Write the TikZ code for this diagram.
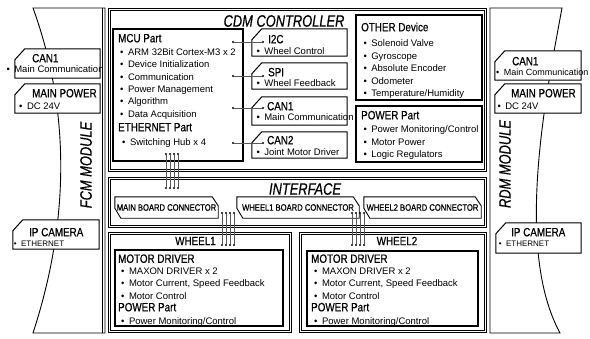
\documentclass[tikz,border=0pt]{standalone}
\usepackage{fontspec}
\setmainfont{Liberation Sans}
\newfontfamily\hdrfont[FakeStretch=0.82,FakeBold=0.6]{Liberation Sans}
\newfontfamily\ttlfont[FakeStretch=0.78,FakeBold=0.6]{Liberation Sans}
\newcommand{\bul}{\textbullet\hspace{4.5pt}}

\tikzset{
  outerbox/.style={draw, double, double distance=1.8pt, line width=0.7pt, inner sep=0pt},
  innerbox/.style={draw, line width=1.2pt, inner sep=0pt},
  tagarea/.style={inner sep=0pt},
  tagline/.style={draw, fill=white, line width=1pt},
  connbox/.style={inner sep=0pt, minimum height=21pt, font=\hdrfont\fontsize{9.3}{10}\selectfont},
  hdr/.style={anchor=base west, inner sep=0pt, font=\hdrfont\fontsize{12}{14}\selectfont},
  itm/.style={anchor=base west, inner sep=0pt, font=\fontsize{9.5}{11}\selectfont},
  smallitm/.style={anchor=base west, inner sep=0pt, font=\fontsize{8}{9}\selectfont},
  ttl/.style={inner sep=0pt, font=\ttlfont\itshape\fontsize{16.5}{18}\selectfont},
  bdot/.style={circle, fill, inner sep=0pt, minimum size=2.4pt},
  wire/.style={line width=0.5pt, black!65},
}

\begin{document}
\begin{tikzpicture}[x=1pt, y=-1pt]
\useasboundingbox (0,0) rectangle (590,338);

% side modules
\draw[line width=0.9pt] (33,8) -- (105,8) -- (105,333) -- (33,333) .. controls (70,220) and (70,110) .. (33,8) -- cycle;
\draw[line width=0.9pt] (102,8) -- (102,333);
\draw[line width=0.9pt] (490,8) -- (562,8) .. controls (545,100) and (515,250) .. (560,333) -- (490,333) -- cycle;
\node[ttl, rotate=90] (fcmttl) at (86,165) {FCM MODULE};
\node[ttl, rotate=90] (rdmttl) at (505,164) {RDM MODULE};

% main frames
\node[outerbox, minimum width=376, minimum height=161] (cdm) at (297.5,90) {};
\node[outerbox, minimum width=376, minimum height=48] (iface) at (297.5,202.5) {};
\node[outerbox, minimum width=181, minimum height=98] (wheel1) at (200,282.5) {};
\node[outerbox, minimum width=185, minimum height=98] (wheel2) at (393,282.5) {};
\node[ttl] (cdmttl) at (284,21) {CDM CONTROLLER};
\node[ttl] (ifttl) at (305,189) {INTERFACE};
\node[hdr, anchor=center] (w1ttl) at (195.5,241) {WHEEL1};
\node[hdr, anchor=center] (w2ttl) at (397,241) {WHEEL2};

% inner boxes
\node[innerbox, minimum width=130, minimum height=132] (mcu) at (178,95) {};
\node[innerbox, minimum width=126, minimum height=85] (other) at (419,57.5) {};
\node[innerbox, minimum width=126, minimum height=56] (power) at (419,134) {};
\node[innerbox, minimum width=168, minimum height=76] (w1drv) at (199,288) {};
\node[innerbox, minimum width=171, minimum height=75] (w2drv) at (392.5,288.5) {};

% tags
\node[tagarea, minimum width=85, minimum height=29] (fcan) at (57.5,63.5) {};
\node[tagarea, minimum width=85, minimum height=29] (fpow) at (57.5,98.5) {};
\node[tagarea, minimum width=86, minimum height=29] (fcam) at (56,234.5) {};
\node[tagarea, minimum width=86, minimum height=29] (rcan) at (538,65.5) {};
\node[tagarea, minimum width=86, minimum height=29] (rpow) at (538,98.5) {};
\node[tagarea, minimum width=85, minimum height=30] (rcam) at (538.5,238) {};
\node[tagarea, minimum width=95, minimum height=27] (i2c) at (299.5,42.5) {};
\node[tagarea, minimum width=95, minimum height=26] (spi) at (299.5,76) {};
\node[tagarea, minimum width=95, minimum height=28] (ccan1) at (299.5,111) {};
\node[tagarea, minimum width=95, minimum height=26] (ccan2) at (299.5,145) {};
\foreach \n in {fcan,fpow,fcam,rcan,rpow,rcam,i2c,spi,ccan1,ccan2}
  \draw[tagline] ([xshift=10pt]\n.north west) -- (\n.north east) -- (\n.south east) -- (\n.south west) -- ([yshift=-11pt]\n.north west) -- cycle;

% board connectors
\node[connbox, minimum width=103] (mbc) at (166.5,207.5) {MAIN BOARD CONNECTOR};
\node[connbox, minimum width=122] (w1c) at (298,207.5) {WHEEL1 BOARD CONNECTOR};
\node[connbox, minimum width=117] (w2c) at (422.5,207.5) {WHEEL2 BOARD CONNECTOR};
\foreach \n in {mbc,w1c,w2c}
  \draw[line width=0.9pt] (\n.north west) -- ([xshift=-6pt]\n.north east) -- ([yshift=-9pt]\n.north east) -- (\n.south east) -- ([xshift=6pt]\n.south west) -- ([yshift=10pt]\n.south west) -- cycle;

% MCU part
\node[hdr] (mcuhdr) at (118,42.3) {MCU Part};
\foreach \t [count=\i] in {ARM 32Bit Cortex-M3 x 2, Device Initialization, Communication, Power Management, Algorithm, Data Acquisition}
  \node[itm] (mcu\i) at (120,43.2+12.3*\i) {\bul\t};
\node[hdr] (ethhdr) at (118,131.3) {ETHERNET Part};
\node[itm] (eth1) at (122,145.5) {\bul Switching Hub x 4};

% other device / power
\node[hdr] (othhdr) at (361,31.3) {OTHER Device};
\foreach \t [count=\i] in {Solenoid Valve, Gyroscope, Absolute Encoder, Odometer, Temperature/Humidity}
  \node[itm] (oth\i) at (363.3,34+12.5*\i) {\bul\t};
\node[hdr] (pwrhdr) at (361,119.3) {POWER Part};
\foreach \t [count=\i] in {Power Monitoring/Control, Motor Power, Logic Regulators}
  \node[itm] (pwr\i) at (363.3,120+12.5*\i) {\bul\t};

% wheels
\foreach \w/\x in {1/118,2/311} {
  \node[hdr] (mdhdr\w) at (\x,262.8) {MOTOR DRIVER};
  \foreach \t [count=\i] in {MAXON DRIVER x 2, {Motor Current, Speed Feedback}, Motor Control}
    \node[itm] (md\w\i) at (\x+3,261.5+12.5*\i) {\bul\t};
  \node[hdr] (wphdr\w) at (\x,311.3) {POWER Part};
  \node[itm] (wp\w) at (\x+3,324.5) {\bul Power Monitoring/Control};
}

% tag texts
\node[hdr] (fcanhdr) at (32,62.3) {CAN1};
\node[itm] (fcantxt) at (6.3,72.5) {\bul Main Communication};
\node[hdr] (fpowhdr) at (32,97.3) {MAIN POWER};
\node[itm] (fpowtxt) at (19,109.5) {\bul DC 24V};
\node[hdr] (fcamhdr) at (29,236.3) {IP CAMERA};
\node[smallitm] (fcamtxt) at (13.6,246) {\bul ETHERNET};
\node[hdr] (rcanhdr) at (512,65.3) {CAN1};
\node[itm, font=\fontsize{9}{11}\selectfont] (rcantxt) at (496,75.5) {\bul Main Communication};
\node[hdr] (rpowhdr) at (511,97.3) {MAIN POWER};
\node[itm] (rpowtxt) at (497.3,109.5) {\bul DC 24V};
\node[hdr] (rcamhdr) at (511,236.3) {IP CAMERA};
\node[smallitm] (rcamtxt) at (498.6,246) {\bul ETHERNET};
\node[hdr] (i2chdr) at (268,43.3) {I2C};
\node[itm] (i2ctxt) at (256.3,54.5) {\bul Wheel Control};
\node[hdr] (spihdr) at (268,76.3) {SPI};
\node[itm] (spitxt) at (256.3,86.5) {\bul Wheel Feedback};
\node[hdr] (ccan1hdr) at (267,110.3) {CAN1};
\node[itm] (ccan1txt) at (256.3,120.5) {\bul Main Communication};
\node[hdr] (ccan2hdr) at (267,144.3) {CAN2};
\node[itm] (ccan2txt) at (256.3,155.5) {\bul Joint Motor Driver};

% links MCU -> interfaces
\foreach \y [count=\i] in {42,76,108,143} {
  \node[bdot] (ma\i) at (233,\y) {};
  \node[bdot] (mb\i) at (263,\y) {};
  \draw[wire] (ma\i) -- (mb\i);
}

% bundles
\foreach \i in {0,...,3} {
  \node[bdot] (bt\i) at (166+4*\i,154) {};
  \node[bdot] (bb\i) at (166+4*\i,188) {};
  \draw[wire] (bt\i) -- (bb\i);
  \node[bdot] (at\i) at (222+4*\i,213) {};
  \node[bdot] (ab\i) at (222+4*\i,245) {};
  \draw[wire] (at\i) -- (ab\i);
  \node[bdot] (ct\i) at (352+4*\i,213) {};
  \node[bdot] (cb\i) at (352+4*\i,245) {};
  \draw[wire] (ct\i) -- (cb\i);
}
\end{tikzpicture}
\end{document}
